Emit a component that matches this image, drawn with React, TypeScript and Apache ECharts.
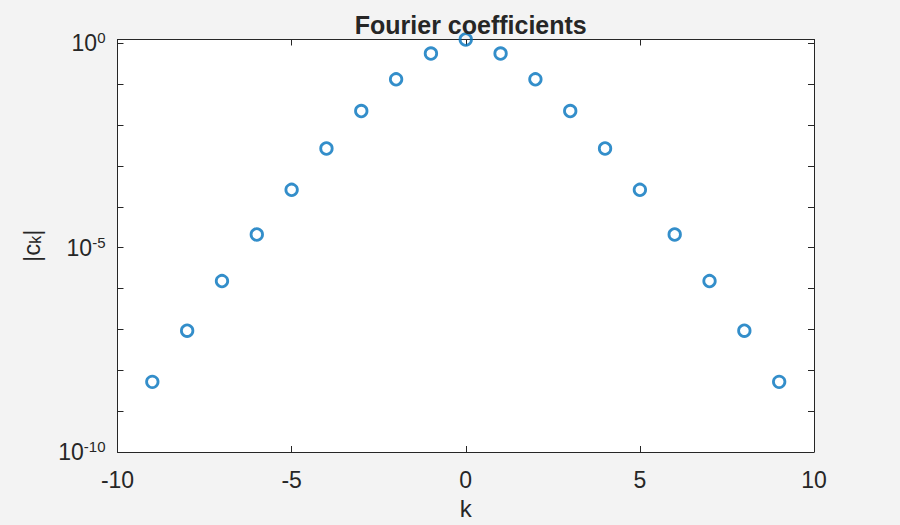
import { useEffect, useRef } from 'react';
import * as echarts from 'echarts';

// k values and |c_k| magnitudes
const kValues = [-9, -8, -7, -6, -5, -4, -3, -2, -1, 0, 1, 2, 3, 4, 5, 6, 7, 8, 9];
const magnitudes = [
  5.2e-9, 9.3e-8, 1.52e-6, 2.1e-5, 2.6e-4, 2.67e-3, 0.022, 0.1315, 0.562, 1.24,
  0.562, 0.1315, 0.022, 2.67e-3, 2.6e-4, 2.1e-5, 1.52e-6, 9.3e-8, 5.2e-9,
];
const xTicks = { min: -10, max: 10, step: 5 };
const yRange = { min: 1e-10, max: 1.24 };
const labelledExponents = [0, -5, -10];

const ink = '#262626';
const font = '"Liberation Sans", Helvetica, Arial, sans-serif';

function logLabel(v: number) {
  const e = Math.log10(v);
  const r = Math.round(e);
  if (Math.abs(e - r) > 1e-6 || !labelledExponents.includes(r)) return '';
  return `{b|10}{s|${r}}`;
}

export default function App() {
  const ref = useRef<HTMLDivElement>(null);

  useEffect(() => {
    if (!ref.current) return;
    const chart = echarts.init(ref.current, undefined, { renderer: 'svg' });

    const axisLine = { show: true, onZero: false, lineStyle: { color: ink, width: 1 } };
    const tick = { show: true, inside: true, length: 6, lineStyle: { color: ink, width: 1 } };
    const rich = {
      b: { fontSize: 23, fontFamily: font, color: ink, lineHeight: 26 },
      s: { fontSize: 15, fontFamily: font, color: ink, verticalAlign: 'top' as const, lineHeight: 26, padding: [0, 0, 12, 0] },
    };

    chart.setOption({
      animation: false,
      backgroundColor: '#f3f3f3',
      title: {
        text: 'Fourier coefficients',
        left: 465.75,
        textAlign: 'center',
        top: 7,
        textStyle: { fontFamily: font, fontSize: 25, fontWeight: 'bold', color: ink },
      },
      grid: { left: 117.5, right: 86, top: 39.5, bottom: 70, backgroundColor: '#ffffff', show: true, borderWidth: 0 },
      xAxis: [
        {
          type: 'value',
          position: 'bottom',
          min: xTicks.min,
          max: xTicks.max,
          interval: xTicks.step,
          axisLine,
          axisTick: tick,
          splitLine: { show: false },
          axisLabel: { color: ink, fontFamily: font, fontSize: 23, margin: 16 },
          name: 'k',
          nameLocation: 'middle',
          nameGap: 44,
          nameTextStyle: { color: ink, fontFamily: font, fontSize: 24 },
        },
        {
          type: 'value',
          position: 'top',
          min: xTicks.min,
          max: xTicks.max,
          interval: xTicks.step,
          axisLine,
          axisTick: tick,
          splitLine: { show: false },
          axisLabel: { show: false },
        },
      ],
      yAxis: [
        {
          type: 'log',
          logBase: 10,
          position: 'left',
          min: yRange.min,
          max: yRange.max,
          interval: 1,
          axisLine,
          axisTick: tick,
          minorTick: { show: false },
          splitLine: { show: false },
          axisLabel: { formatter: logLabel, rich, margin: 12 },
          name: '|c{sub|k}|',
          nameLocation: 'middle',
          nameGap: 74,
          nameTextStyle: {
            color: ink,
            fontFamily: font,
            fontSize: 24,
            rich: {
              sub: { fontSize: 16, fontFamily: font, color: ink, verticalAlign: 'bottom', padding: [9, 0, 0, 0] },
            },
          },
        },
        {
          type: 'log',
          logBase: 10,
          position: 'right',
          min: yRange.min,
          max: yRange.max,
          interval: 1,
          axisLine,
          axisTick: tick,
          splitLine: { show: false },
          axisLabel: { show: false },
        },
      ],
      series: [
        {
          type: 'scatter',
          xAxisIndex: 0,
          yAxisIndex: 0,
          clip: false,
          symbol: 'circle',
          symbolSize: 11.5,
          itemStyle: { color: 'rgba(0,0,0,0)', borderColor: '#0072BD', borderWidth: 2.8 },
          data: kValues.map((k, i) => [k, magnitudes[i]]),
        },
      ],
    });

    return () => chart.dispose();
  }, []);

  return (
    <div
      ref={ref}
      style={{ position: 'fixed', left: 0, top: 0, width: 900, height: 525 }}
    />
  );
}
